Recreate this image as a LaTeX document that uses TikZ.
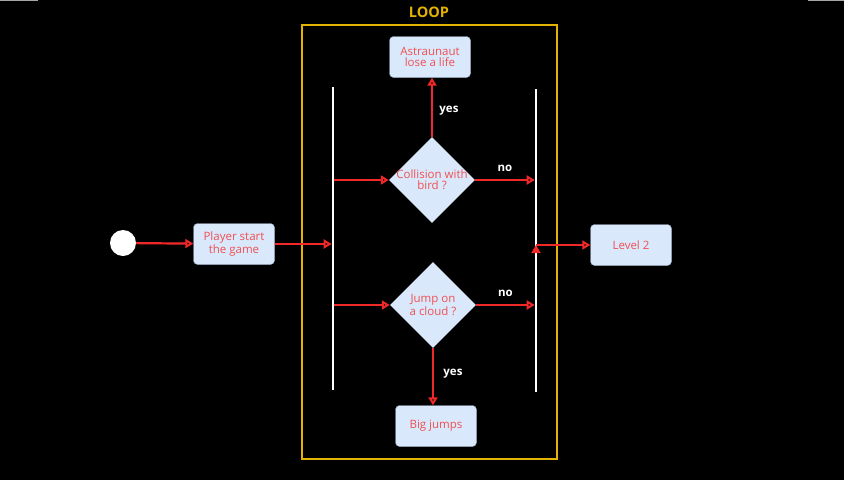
\documentclass[tikz,border=0pt]{standalone}
\usepackage{fontspec}
\setmainfont{Open Sans}
\usetikzlibrary{shapes.geometric,arrows.meta}
\definecolor{boxfill}{RGB}{218,232,252}
\definecolor{boxline}{RGB}{150,165,190}
\definecolor{txtred}{RGB}{240,80,80}
\definecolor{flowred}{RGB}{240,40,40}
\definecolor{loopgold}{RGB}{228,178,0}
\tikzset{
  box/.style={draw=boxline,fill=boxfill,rounded corners=4pt,minimum width=81pt,minimum height=41pt,
    text=txtred,align=center,font=\fontsize{11.5}{11}\selectfont,inner sep=1pt},
  decision/.style={diamond,fill=boxfill,minimum width=86pt,minimum height=86pt,inner sep=-12pt,
    text=txtred,align=center,font=\fontsize{11.5}{11}\selectfont},
  bar/.style={fill=white,inner sep=0pt,minimum width=2.2pt},
  flow/.style={draw=flowred,line width=2.2pt,-{Triangle[length=8pt,width=9pt]}},
  answer/.style={text=white,font=\fontsize{11.5}{12}\selectfont\bfseries}
}
\begin{document}
\begin{tikzpicture}[x=1pt,y=-1pt,auto]
        \useasboundingbox (0,0) rectangle (844,480);
        \fill[black] (0,0) rectangle (844,480);
        \draw[gray!70,line width=1.2pt] (0,0.6) -- (38,0.6) (808,0.6) -- (844,0.6);
        \draw[loopgold,line width=1.6pt] (302,25) rectangle (557,459);
        \node[text=loopgold,font=\fontsize{14.5}{15}\selectfont\bfseries] (Loop) at (429,12) {LOOP};
        \node[circle,fill=white,minimum size=26pt,inner sep=0pt] (Start) at (123,243) {};
        \node[box] (Play) at (234,244) {Player start\\the game};
        \node[bar,minimum height=303pt] (LBar) at (333,238.5) {};
        \node[bar,minimum height=303pt] (RBar) at (536,240.5) {};
        \node[decision] (Coll) at (432,180) {Collision with\\bird ?};
        \node[decision] (Jump) at (433,305) {Jump on\\a cloud ?};
        \node[box] (Life) at (430,57) {Astraunaut\\lose a life};
        \node[box] (Big) at (436,426) {Big jumps};
        \node[box] (Lvl2) at (631,245) {Level 2};
        \path[flow]
          (Start) edge (Play)
          (Play) edge (LBar.west |- Play)
          (LBar.east |- Coll) edge (Coll)
          (LBar.east |- Jump) edge (Jump)
          (Coll) edge node[answer,midway,above=4pt] {no} (RBar.west |- Coll)
          (Jump) edge node[answer,midway,above=4pt] {no} (RBar.west |- Jump)
          (Coll.north) edge node[answer,pos=0.45,right=3pt] {yes} (Coll.north |- Life.south)
          (Jump.south) edge node[answer,pos=0.45,right=6pt] {yes} (Jump.south |- Big.north)
          (RBar.center |- Lvl2) edge (Lvl2)
          ;
      \end{tikzpicture}
\end{document}
